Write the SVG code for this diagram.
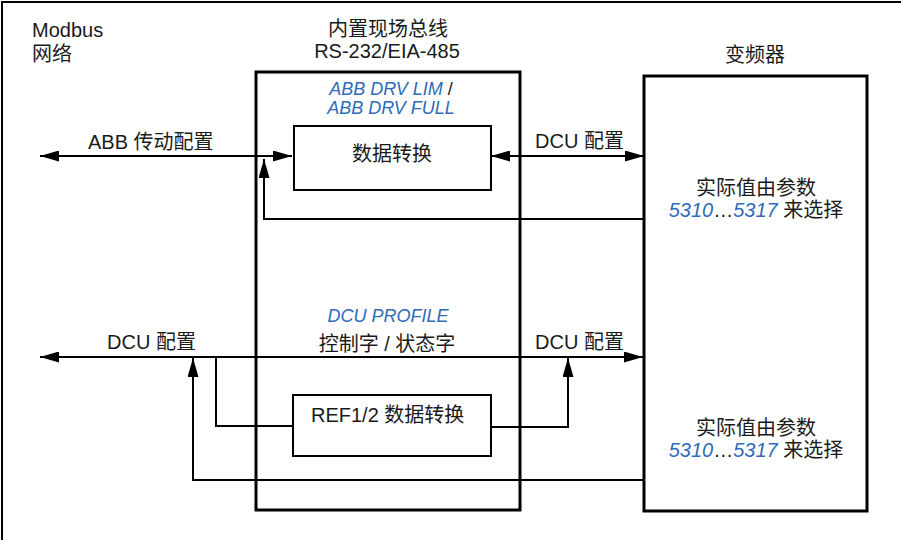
<svg xmlns="http://www.w3.org/2000/svg" width="901" height="540" viewBox="0 0 901 540">
<defs>
<style>
text{font-family:"Liberation Sans","Noto Sans CJK SC",Arial,sans-serif;font-size:20px;fill:#1a1a1a}
.c{text-anchor:middle}
.b{fill:#2e6bb8;font-style:italic}
.p{font-size:18px}
.frame{fill:none;stroke:#000;stroke-width:2}
.big{fill:#fff;stroke:#000;stroke-width:3}
.small{fill:#fff;stroke:#000;stroke-width:2}
.con{fill:none;stroke:#000;stroke-width:2}
</style>
<marker id="ah" viewBox="0 0 19 11" refX="19" refY="5.5" markerWidth="19" markerHeight="11" markerUnits="userSpaceOnUse" orient="auto-start-reverse">
<path d="M0,0 L19,5.5 L0,11 z" fill="#000"/>
</marker>
</defs>
<rect width="901" height="540" fill="#fff"/>
<path class="frame" d="M2,540 V2 H901"/>

<g id="modbus">
<text x="32" y="37">Modbus</text>
<text x="32" y="61">网络</text>
</g>

<g id="fieldbus">
<text class="c" x="388" y="36">内置现场总线</text>
<text class="c" x="387" y="58">RS-232/EIA-485</text>
<rect class="big" x="256" y="72" width="264" height="438"/>
<text class="c p" x="391" y="95"><tspan class="b">ABB DRV LIM</tspan> /</text>
<text class="c b p" x="391" y="114">ABB DRV FULL</text>
<text class="c b p" x="388" y="322">DCU PROFILE</text>
<text class="c" x="387" y="351">控制字 / 状态字</text>
</g>

<g id="converter">
<text class="c" x="755" y="62">变频器</text>
<rect class="big" x="644" y="76" width="223" height="435"/>
<text class="c" x="756" y="195">实际值由参数</text>
<text class="c" x="756" y="217"><tspan class="b">5310</tspan>…<tspan class="b">5317</tspan> 来选择</text>
<text class="c" x="756" y="435">实际值由参数</text>
<text class="c" x="756" y="457"><tspan class="b">5310</tspan>…<tspan class="b">5317</tspan> 来选择</text>
</g>

<g id="data-conv">
<rect class="small" x="294" y="126" width="197" height="64"/>
<text class="c" x="392" y="161">数据转换</text>
</g>

<g id="ref-conv">
<rect class="small" x="293" y="395" width="198" height="61"/>
<text x="311" y="422">REF1/2 数据转换</text>
</g>

<g id="connectors">
<path class="con" d="M40,156 H292" marker-start="url(#ah)" marker-end="url(#ah)"/>
<path class="con" d="M491,156 H644" marker-start="url(#ah)" marker-end="url(#ah)"/>
<path class="con" d="M644,219 H264 V159" marker-end="url(#ah)"/>
<path class="con" d="M40,357 H643" marker-start="url(#ah)" marker-end="url(#ah)"/>
<path class="con" d="M216,357 V426 H293"/>
<path class="con" d="M491,427 H568 V358" marker-end="url(#ah)"/>
<path class="con" d="M644,480 H193 V358" marker-end="url(#ah)"/>
</g>

<g id="labels">
<text x="88" y="149">ABB 传动配置</text>
<text x="535" y="148">DCU 配置</text>
<text x="107" y="349">DCU 配置</text>
<text x="535" y="349">DCU 配置</text>
</g>
</svg>
